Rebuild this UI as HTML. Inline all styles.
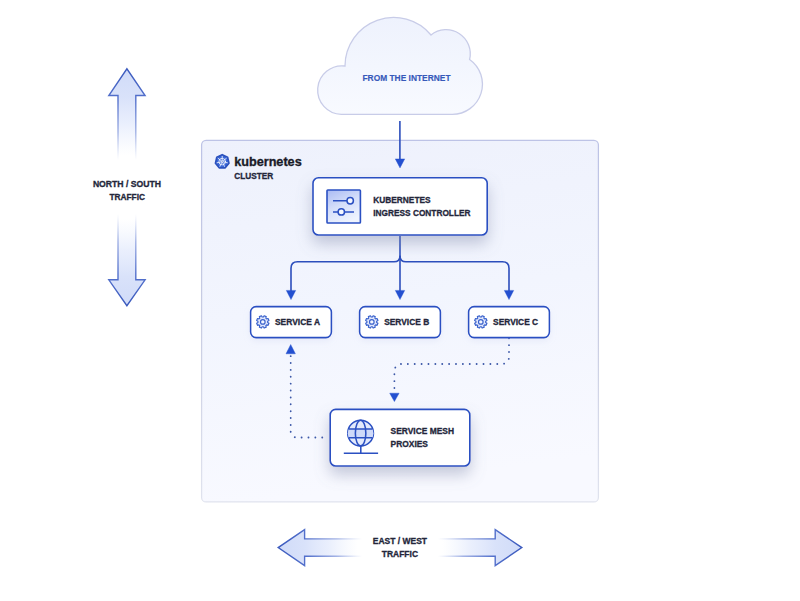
<!DOCTYPE html>
<html>
<head>
<meta charset="utf-8">
<title>Kubernetes traffic diagram</title>
<style>
  html, body { margin: 0; padding: 0; background: #ffffff; }
  body { width: 800px; height: 601px; overflow: hidden; font-family: "Liberation Sans", sans-serif; }
  svg { display: block; }
  text { font-family: "Liberation Sans", sans-serif; font-weight: bold; }
  .lbl { font-size: 8.6px; fill: #23263a; stroke: #23263a; stroke-width: 0.3px; }
  .blue { fill: #3759ba; stroke: #3759ba; stroke-width: 0.15px; }
</style>
</head>
<body>
<svg width="800" height="601" viewBox="0 0 800 601">
  <defs>
    <linearGradient id="clusterFill" x1="0" y1="0" x2="0.15" y2="1">
      <stop offset="0" stop-color="#eef1fc"/>
      <stop offset="0.5" stop-color="#f2f5fe"/>
      <stop offset="1" stop-color="#f8f9ff"/>
    </linearGradient>
    <linearGradient id="clusterStroke" x1="0" y1="0" x2="0" y2="1">
      <stop offset="0" stop-color="#bdc3e6"/>
      <stop offset="0.5" stop-color="#c8cce2"/>
      <stop offset="1" stop-color="#e0e3ee"/>
    </linearGradient>
    <linearGradient id="cloudFill" x1="0" y1="0" x2="0" y2="1">
      <stop offset="0" stop-color="#eef2fd"/>
      <stop offset="1" stop-color="#f8faff"/>
    </linearGradient>
    <linearGradient id="iconFill" x1="0.1" y1="0" x2="0.55" y2="1">
      <stop offset="0" stop-color="#adbdf4"/>
      <stop offset="0.5" stop-color="#d5dffa"/>
      <stop offset="1" stop-color="#eef3fe"/>
    </linearGradient>
    <!-- big arrows gradients -->
    <linearGradient id="upFill" gradientUnits="userSpaceOnUse" x1="0" y1="68" x2="0" y2="160">
      <stop offset="0" stop-color="#d0dbf8" stop-opacity="1"/>
      <stop offset="0.32" stop-color="#d9e2fa" stop-opacity="1"/>
      <stop offset="0.6" stop-color="#e2e9fc" stop-opacity="0.75"/>
      <stop offset="0.95" stop-color="#eaf0fd" stop-opacity="0"/>
    </linearGradient>
    <linearGradient id="upStroke" gradientUnits="userSpaceOnUse" x1="0" y1="68" x2="0" y2="160">
      <stop offset="0" stop-color="#3a59bd" stop-opacity="1"/>
      <stop offset="0.35" stop-color="#4d6bca" stop-opacity="0.95"/>
      <stop offset="0.7" stop-color="#6a83d4" stop-opacity="0.6"/>
      <stop offset="1" stop-color="#8ea3e2" stop-opacity="0"/>
    </linearGradient>
    <linearGradient id="downFill" gradientUnits="userSpaceOnUse" x1="0" y1="306" x2="0" y2="214">
      <stop offset="0" stop-color="#d0dbf8" stop-opacity="1"/>
      <stop offset="0.32" stop-color="#d9e2fa" stop-opacity="1"/>
      <stop offset="0.6" stop-color="#e2e9fc" stop-opacity="0.75"/>
      <stop offset="0.95" stop-color="#eaf0fd" stop-opacity="0"/>
    </linearGradient>
    <linearGradient id="downStroke" gradientUnits="userSpaceOnUse" x1="0" y1="306" x2="0" y2="214">
      <stop offset="0" stop-color="#3a59bd" stop-opacity="1"/>
      <stop offset="0.35" stop-color="#4d6bca" stop-opacity="0.95"/>
      <stop offset="0.7" stop-color="#6a83d4" stop-opacity="0.6"/>
      <stop offset="1" stop-color="#8ea3e2" stop-opacity="0"/>
    </linearGradient>
    <linearGradient id="leftFill" gradientUnits="userSpaceOnUse" x1="278" y1="0" x2="362" y2="0">
      <stop offset="0" stop-color="#d0dbf8" stop-opacity="1"/>
      <stop offset="0.32" stop-color="#d9e2fa" stop-opacity="1"/>
      <stop offset="0.6" stop-color="#e2e9fc" stop-opacity="0.75"/>
      <stop offset="0.95" stop-color="#eaf0fd" stop-opacity="0"/>
    </linearGradient>
    <linearGradient id="leftStroke" gradientUnits="userSpaceOnUse" x1="278" y1="0" x2="362" y2="0">
      <stop offset="0" stop-color="#3a59bd" stop-opacity="1"/>
      <stop offset="0.35" stop-color="#4d6bca" stop-opacity="0.95"/>
      <stop offset="0.7" stop-color="#6a83d4" stop-opacity="0.6"/>
      <stop offset="1" stop-color="#8ea3e2" stop-opacity="0"/>
    </linearGradient>
    <linearGradient id="rightFill" gradientUnits="userSpaceOnUse" x1="522" y1="0" x2="438" y2="0">
      <stop offset="0" stop-color="#d0dbf8" stop-opacity="1"/>
      <stop offset="0.32" stop-color="#d9e2fa" stop-opacity="1"/>
      <stop offset="0.6" stop-color="#e2e9fc" stop-opacity="0.75"/>
      <stop offset="0.95" stop-color="#eaf0fd" stop-opacity="0"/>
    </linearGradient>
    <linearGradient id="rightStroke" gradientUnits="userSpaceOnUse" x1="522" y1="0" x2="438" y2="0">
      <stop offset="0" stop-color="#3a59bd" stop-opacity="1"/>
      <stop offset="0.35" stop-color="#4d6bca" stop-opacity="0.95"/>
      <stop offset="0.7" stop-color="#6a83d4" stop-opacity="0.6"/>
      <stop offset="1" stop-color="#8ea3e2" stop-opacity="0"/>
    </linearGradient>
    <filter id="shadowBig" x="-25%" y="-50%" width="150%" height="230%">
      <feGaussianBlur in="SourceAlpha" stdDeviation="7.5"/>
      <feOffset dx="0" dy="8" result="b"/>
      <feFlood flood-color="#7b84a6" flood-opacity="0.42"/>
      <feComposite in2="b" operator="in"/>
      <feMerge><feMergeNode/><feMergeNode in="SourceGraphic"/></feMerge>
    </filter>
    <filter id="shadowSmall" x="-20%" y="-40%" width="140%" height="200%">
      <feGaussianBlur in="SourceAlpha" stdDeviation="3"/>
      <feOffset dx="0" dy="3" result="b"/>
      <feFlood flood-color="#a9b4dc" flood-opacity="0.16"/>
      <feComposite in2="b" operator="in"/>
      <feMerge><feMergeNode/><feMergeNode in="SourceGraphic"/></feMerge>
    </filter>
    
  </defs>

  <!-- cloud -->
  <path id="cloud" d="M341.3,114.4 A24.3,24.3 0 1 1 345,66 A48.6,48.6 0 0 1 431,35 A24.15,24.15 0 0 1 469.6,59.5 A30.2,30.2 0 0 1 452.1,114.4 Z" fill="url(#cloudFill)" stroke="#c8cce8" stroke-width="1.3"/>
  <text x="362.5" y="80.8" class="blue" font-size="8.6" textLength="88" lengthAdjust="spacingAndGlyphs">FROM THE INTERNET</text>

  <!-- cluster -->
  <rect x="201.6" y="140.3" width="396.8" height="361.6" rx="4.5" fill="url(#clusterFill)" stroke="url(#clusterStroke)" stroke-width="1.25"/>

  <!-- k8s logo -->
  <g transform="translate(222.2,161.6)">
    <path fill="#3a68d8" stroke="#2b51bd" stroke-width="1.7" stroke-linejoin="round" d="M0.00,-6.90 L5.39,-4.30 L6.73,1.54 L2.99,6.22 L-2.99,6.22 L-6.73,1.54 L-5.39,-4.30 Z"/>
    <g stroke="#ffffff" stroke-opacity="0.92" stroke-width="0.85" stroke-linecap="round" fill="none">
      <circle r="3.3"/>
      <path d="M0.00,-1.70 L0.00,-5.30 M1.33,-1.06 L4.14,-3.30 M1.66,0.38 L5.17,1.18 M0.74,1.53 L2.30,4.78 M-0.74,1.53 L-2.30,4.78 M-1.66,0.38 L-5.17,1.18 M-1.33,-1.06 L-4.14,-3.30"/>
    </g>
    <circle r="1.35" fill="#ffffff" fill-opacity="0.95"/>
    <circle r="0.55" fill="#5f7fd0"/>
  </g>
  <text x="234.2" y="165.9" font-size="12.9" fill="#1a1b28" stroke="#1a1b28" stroke-width="0.35" textLength="67.5" lengthAdjust="spacingAndGlyphs">kubernetes</text>
  <text x="234.2" y="178.8" class="lbl" textLength="39" lengthAdjust="spacingAndGlyphs">CLUSTER</text>

  <!-- connectors -->
  <g fill="none" stroke="#2c4ebc" stroke-width="1.6">
    <path d="M399.9,121 L399.9,160"/>
    <path d="M400,236 L400,291"/>
    <path d="M400,255.8 Q400,261.8 394,261.8 L297.5,261.8 Q291,261.8 291,268.3 L291,291"/>
    <path d="M400,255.8 Q400,261.8 406,261.8 L502.5,261.8 Q509,261.8 509,268.3 L509,291"/>
  </g>
  <g fill="#2450d0" stroke="#2450d0" stroke-width="0.4" stroke-linejoin="round">
    <path d="M395.3,158.9 L404.7,158.9 L400,167.9 Z"/>
    <path d="M395.3,290.4 L404.7,290.4 L400,299.6 Z"/>
    <path d="M286.3,290.4 L295.7,290.4 L291,299.6 Z"/>
    <path d="M504.3,290.4 L513.7,290.4 L509,299.6 Z"/>
    <path d="M286.0,353.8 L295.4,353.8 L290.7,344.5 Z"/>
    <path d="M389.7,393.2 L399.1,393.2 L394.4,401.6 Z"/>
  </g>
  <!-- dotted -->
  <g fill="none" stroke="#3c58a8" stroke-width="1.8" stroke-linecap="round" stroke-dasharray="0.1 6.78">
    <path d="M290.7,356.1 L290.7,431.5 A6,6 0 0 0 296.7,437.5 L329,437.5"/>
    <path d="M509,338.2 L509,357 A7,7 0 0 1 502,364 L401.4,364 A7,7 0 0 0 394.4,371 L394.4,392.5"/>
  </g>

  <!-- ingress controller -->
  <g filter="url(#shadowBig)">
    <rect x="313" y="177.8" width="174.2" height="57.2" rx="5.5" fill="#ffffff" stroke="#2b50c2" stroke-width="1.6"/>
  </g>
  <rect x="327" y="190" width="33.4" height="33" rx="0.8" fill="url(#iconFill)" stroke="#2b50c2" stroke-width="1.6"/>
  <g stroke="#2b50c2" stroke-width="1.5" fill="#f4f7ff">
    <path d="M333,200.7 L347,200.7 M333,211.9 L354,211.9"/>
    <circle cx="350.2" cy="200.7" r="3.2"/>
    <circle cx="341.3" cy="211.9" r="3.2"/>
  </g>
  <text x="373.3" y="203" class="lbl" textLength="57.3" lengthAdjust="spacingAndGlyphs">KUBERNETES</text>
  <text x="373.3" y="216" class="lbl" textLength="97.2" lengthAdjust="spacingAndGlyphs">INGRESS CONTROLLER</text>

  <!-- services -->
  <g filter="url(#shadowSmall)">
    <rect x="250.6" y="306.6" width="80.8" height="31" rx="5.5" fill="#ffffff" stroke="#2b50c2" stroke-width="1.55"/>
    <rect x="359.6" y="306.6" width="80.8" height="31" rx="5.5" fill="#ffffff" stroke="#2b50c2" stroke-width="1.55"/>
    <rect x="468.6" y="306.6" width="80.8" height="31" rx="5.5" fill="#ffffff" stroke="#2b50c2" stroke-width="1.55"/>
  </g>
  <g transform="translate(262.8,321.9)">
    <path fill="#dfe6fc" stroke="#3a62cc" stroke-width="1.15" stroke-linejoin="round" d="M0.60,-4.86 L1.31,-6.16 L3.43,-5.28 L3.02,-3.86 L3.86,-3.02 L5.28,-3.43 L6.16,-1.31 L4.86,-0.60 L4.86,0.60 L6.16,1.31 L5.28,3.43 L3.86,3.02 L3.02,3.86 L3.43,5.28 L1.31,6.16 L0.60,4.86 L-0.60,4.86 L-1.31,6.16 L-3.43,5.28 L-3.02,3.86 L-3.86,3.02 L-5.28,3.43 L-6.16,1.31 L-4.86,0.60 L-4.86,-0.60 L-6.16,-1.31 L-5.28,-3.43 L-3.86,-3.02 L-3.02,-3.86 L-3.43,-5.28 L-1.31,-6.16 L-0.60,-4.86 Z"/>
      <circle r="2.3" fill="#f4f7ff" stroke="#3a62cc" stroke-width="1.15"/>
  </g>
  <g transform="translate(371.8,321.9)">
    <path fill="#dfe6fc" stroke="#3a62cc" stroke-width="1.15" stroke-linejoin="round" d="M0.60,-4.86 L1.31,-6.16 L3.43,-5.28 L3.02,-3.86 L3.86,-3.02 L5.28,-3.43 L6.16,-1.31 L4.86,-0.60 L4.86,0.60 L6.16,1.31 L5.28,3.43 L3.86,3.02 L3.02,3.86 L3.43,5.28 L1.31,6.16 L0.60,4.86 L-0.60,4.86 L-1.31,6.16 L-3.43,5.28 L-3.02,3.86 L-3.86,3.02 L-5.28,3.43 L-6.16,1.31 L-4.86,0.60 L-4.86,-0.60 L-6.16,-1.31 L-5.28,-3.43 L-3.86,-3.02 L-3.02,-3.86 L-3.43,-5.28 L-1.31,-6.16 L-0.60,-4.86 Z"/>
      <circle r="2.3" fill="#f4f7ff" stroke="#3a62cc" stroke-width="1.15"/>
  </g>
  <g transform="translate(480.8,321.9)">
    <path fill="#dfe6fc" stroke="#3a62cc" stroke-width="1.15" stroke-linejoin="round" d="M0.60,-4.86 L1.31,-6.16 L3.43,-5.28 L3.02,-3.86 L3.86,-3.02 L5.28,-3.43 L6.16,-1.31 L4.86,-0.60 L4.86,0.60 L6.16,1.31 L5.28,3.43 L3.86,3.02 L3.02,3.86 L3.43,5.28 L1.31,6.16 L0.60,4.86 L-0.60,4.86 L-1.31,6.16 L-3.43,5.28 L-3.02,3.86 L-3.86,3.02 L-5.28,3.43 L-6.16,1.31 L-4.86,0.60 L-4.86,-0.60 L-6.16,-1.31 L-5.28,-3.43 L-3.86,-3.02 L-3.02,-3.86 L-3.43,-5.28 L-1.31,-6.16 L-0.60,-4.86 Z"/>
      <circle r="2.3" fill="#f4f7ff" stroke="#3a62cc" stroke-width="1.15"/>
  </g>
  <text x="275" y="324.8" class="lbl" textLength="45" lengthAdjust="spacingAndGlyphs">SERVICE A</text>
  <text x="384.2" y="324.8" class="lbl" textLength="45" lengthAdjust="spacingAndGlyphs">SERVICE B</text>
  <text x="493.1" y="324.8" class="lbl" textLength="45" lengthAdjust="spacingAndGlyphs">SERVICE C</text>

  <!-- mesh -->
  <g filter="url(#shadowBig)">
    <rect x="330.2" y="409.4" width="139.6" height="56.6" rx="5.5" fill="#ffffff" stroke="#2b50c2" stroke-width="1.6"/>
  </g>
  <g stroke="#2b50c2" stroke-width="1.55" fill="none">
    <circle cx="360.6" cy="433.15" r="12.85" fill="#e3eafc"/>
    <path d="M348.6,429 L372.6,429 L373.45,433.15 L372.6,437.8 L348.6,437.8 L347.75,433.15 Z" fill="#cfdaf9" stroke="none"/>
    <ellipse cx="360.6" cy="433.15" rx="5.25" ry="12.85"/>
    <path d="M348.5,429 L372.7,429 M348.5,437.8 L372.7,437.8 M360.8,446 L360.8,453.3 M343.8,453.3 L378.1,453.3"/>
  </g>
  <text x="390.6" y="434.4" class="lbl" textLength="63.4" lengthAdjust="spacingAndGlyphs">SERVICE MESH</text>
  <text x="390.6" y="447.4" class="lbl" textLength="37.4" lengthAdjust="spacingAndGlyphs">PROXIES</text>

  <!-- north/south -->
  <path d="M118,160 L118,95.5 L108.8,95.5 L126.9,68.8 L145.1,95.5 L135.8,95.5 L135.8,160" fill="url(#upFill)" stroke="url(#upStroke)" stroke-width="1.4" stroke-linejoin="miter"/>
  <path d="M118,214 L118,279.8 L108.8,279.8 L126.9,305.7 L145.1,279.8 L135.8,279.8 L135.8,214" fill="url(#downFill)" stroke="url(#downStroke)" stroke-width="1.4"/>
  <text x="92.9" y="187.1" class="lbl" textLength="68.1" lengthAdjust="spacingAndGlyphs">NORTH / SOUTH</text>
  <text x="109.4" y="200" class="lbl" textLength="35.6" lengthAdjust="spacingAndGlyphs">TRAFFIC</text>

  <!-- east/west -->
  <path d="M362,538.9 L304.6,538.9 L304.6,529.6 L278.2,547.6 L304.6,565.6 L304.6,556.3 L362,556.3" fill="url(#leftFill)" stroke="url(#leftStroke)" stroke-width="1.4"/>
  <path d="M438,538.9 L495.2,538.9 L495.2,529.6 L521.8,547.6 L495.2,565.6 L495.2,556.3 L438,556.3" fill="url(#rightFill)" stroke="url(#rightStroke)" stroke-width="1.4"/>
  <text x="372.8" y="544.1" class="lbl" textLength="54.2" lengthAdjust="spacingAndGlyphs">EAST / WEST</text>
  <text x="381.8" y="557.2" class="lbl" textLength="36.2" lengthAdjust="spacingAndGlyphs">TRAFFIC</text>
</svg>
</body>
</html>
